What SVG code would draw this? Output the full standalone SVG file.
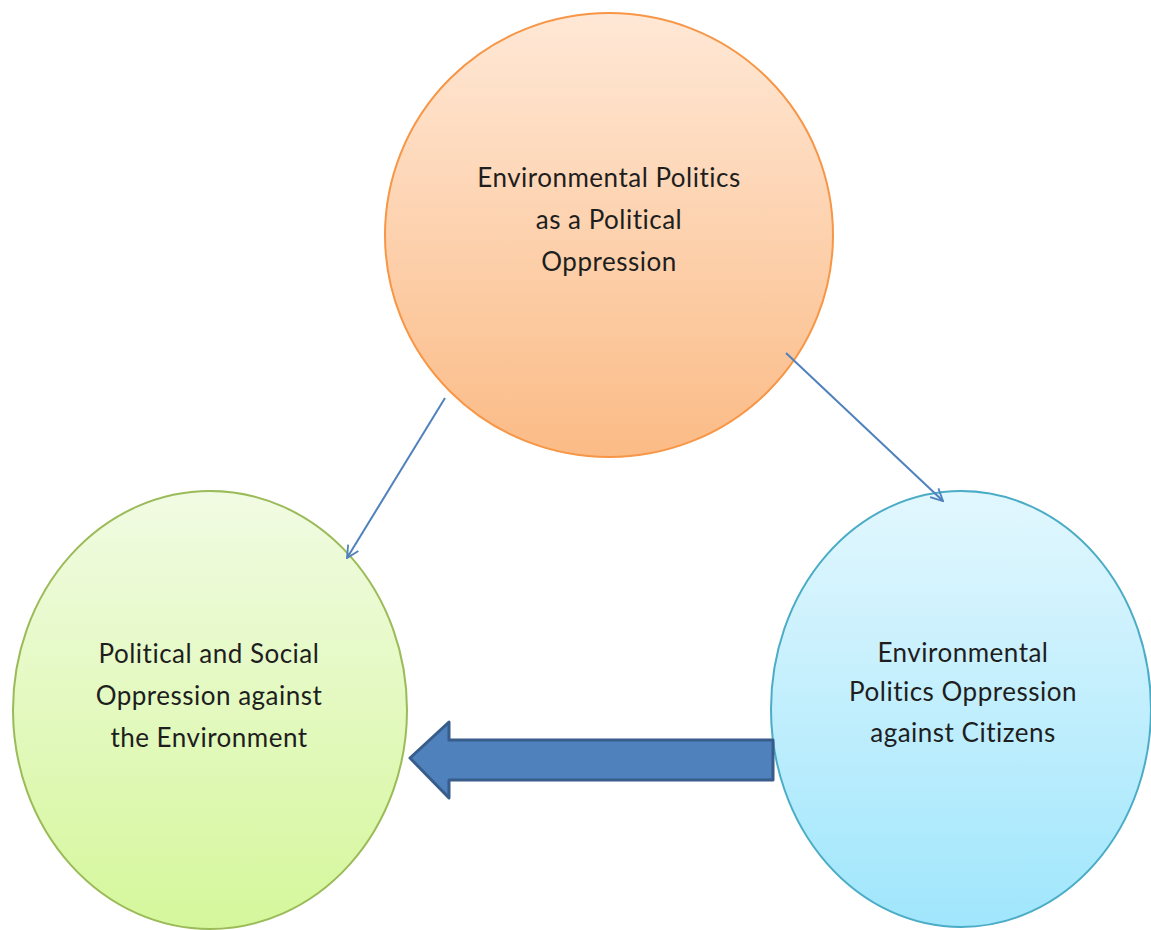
<svg xmlns="http://www.w3.org/2000/svg" width="1151" height="930" viewBox="0 0 1151 930">
<defs>
<linearGradient id="gOrange" x1="0" y1="0" x2="0" y2="1">
<stop offset="0" stop-color="#FFE8D6"/>
<stop offset="1" stop-color="#FBBB86"/>
</linearGradient>
<linearGradient id="gGreen" x1="0" y1="0" x2="0" y2="1">
<stop offset="0" stop-color="#F1FBE3"/>
<stop offset="1" stop-color="#D5F79B"/>
</linearGradient>
<linearGradient id="gBlue" x1="0" y1="0" x2="0" y2="1">
<stop offset="0" stop-color="#E2F7FE"/>
<stop offset="1" stop-color="#A0E6FC"/>
</linearGradient>
<marker id="openArrow" viewBox="0 0 14 14" refX="13" refY="7" markerWidth="14" markerHeight="14" markerUnits="userSpaceOnUse" orient="auto">
<path d="M1,1 L13,7 L1,13" fill="none" stroke="#4F81BD" stroke-width="1.8"/>
</marker>
</defs>
<style>
.lbl{font-family:Lato,"Open Sans","Liberation Sans",sans-serif;font-size:26px;letter-spacing:0.5px;fill:#1E1E1E;text-anchor:middle}
.conn{stroke:#4F81BD;stroke-width:2;fill:none}
</style>
<rect width="1151" height="930" fill="#FFFFFF"/>
<g id="node-top">
<ellipse cx="609" cy="235" rx="224" ry="222" fill="url(#gOrange)" stroke="#F79646" stroke-width="2"/>
<text class="lbl" x="609" y="187">Environmental Politics</text>
<text class="lbl" x="609" y="229">as a Political</text>
<text class="lbl" x="609" y="271">Oppression</text>
</g>
<g id="node-left">
<ellipse cx="210" cy="710" rx="197" ry="219" fill="url(#gGreen)" stroke="#9BBB59" stroke-width="2"/>
<text class="lbl" x="209" y="663">Political and Social</text>
<text class="lbl" x="209" y="705">Oppression against</text>
<text class="lbl" x="209" y="747">the Environment</text>
</g>
<g id="node-right">
<ellipse cx="961" cy="709" rx="190" ry="218" fill="url(#gBlue)" stroke="#4BACC6" stroke-width="2"/>
<text class="lbl" x="963" y="662">Environmental</text>
<text class="lbl" x="963" y="701">Politics Oppression</text>
<text class="lbl" x="963" y="742">against Citizens</text>
</g>
<g id="connectors">
<line class="conn" x1="445" y1="398" x2="347" y2="558" marker-end="url(#openArrow)"/>
<line class="conn" x1="786" y1="353" x2="943" y2="501" marker-end="url(#openArrow)"/>
<path d="M773,740 L449,740 L449,722 L410,758 L449,798 L449,780 L773,780 Z" fill="#4F81BD" stroke="#385D8A" stroke-width="3" stroke-linejoin="round"/>
</g>
</svg>
